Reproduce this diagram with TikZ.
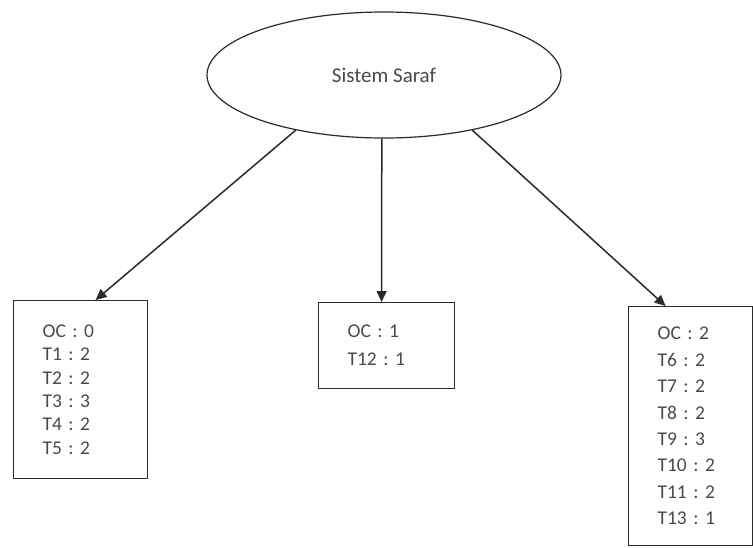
\documentclass[tikz,border=0pt]{standalone}
\usepackage{fontspec}
\setmainfont{Carlito}
\usetikzlibrary{arrows.meta,calc,shapes.geometric}
\definecolor{inkline}{HTML}{2A2A2A}
\definecolor{inktext}{HTML}{4A4A4A}
\begin{document}
\frenchspacing
\begin{tikzpicture}[x=1pt,y=-1pt,
  every node/.style={text=inktext},
  rootnode/.style={ellipse,draw=inkline,line width=1.2pt,minimum width=354pt,minimum height=126pt,inner sep=0pt,
    font=\fontsize{21}{24}\selectfont},
  listbox/.style={draw=inkline,line width=1.2pt,anchor=north west,align=left,inner xsep=29pt,inner ysep=0pt},
  link/.style={draw=inkline,line width=1.5pt,-{Triangle[length=11pt,width=10pt]}}
]
\useasboundingbox (0,0) rectangle (753,547);
\node[rootnode] (root) at (384,75) {Sistem Saraf};

\node[listbox,text width=76pt,minimum height=178pt,font=\fontsize{19.5}{23.3}\selectfont] (left) at (13,300)
  {OC : 0\\T1 : 2\\T2 : 2\\T3 : 3\\T4 : 2\\T5 : 2};
\node[listbox,text width=78pt,minimum height=86pt,font=\fontsize{19.5}{28}\selectfont] (mid) at (318,302)
  {OC : 1\\T12 : 1};
\node[listbox,text width=66pt,minimum height=239pt,font=\fontsize{19.5}{26.4}\selectfont] (right) at (628,306)
  {OC : 2\\T6 : 2\\T7 : 2\\T8 : 2\\T9 : 3\\T10 : 2\\T11 : 2\\T13 : 1};

\draw[link] (root.212) -- ($(left.north)+(15,0)$);
\draw[link] (root.268) -- ($(mid.north)+(-5,0)$);
\draw[link] (root.328) -- ($(right.north)+(-25,0)$);
\end{tikzpicture}
\end{document}
